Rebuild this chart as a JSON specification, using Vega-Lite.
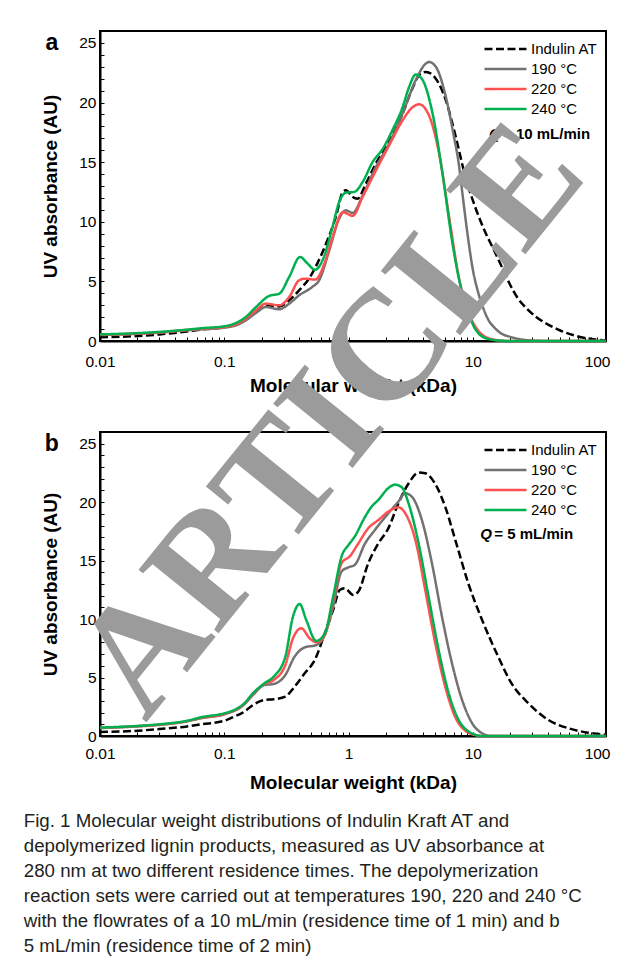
{
  "$schema": "https://vega.github.io/schema/vega-lite/v6.json",
  "background": "white",
  "padding": {"left": 23, "top": 30, "right": 5, "bottom": 5},
  "autosize": {"type": "pad"},
  "bounds": "flush",
  "spacing": 91,
  "config": {
    "font": "Liberation Sans",
    "view": {"stroke": "black", "strokeWidth": 2},
    "axis": {
      "domainColor": "black", "domainWidth": 2, "tickColor": "black", "tickWidth": 1,
      "labelColor": "black", "labelFont": "Liberation Sans", "labelFontSize": 15.5,
      "titleColor": "black", "titleFont": "Liberation Sans", "titleFontSize": 19, "titleFontWeight": "bold",
      "grid": false, "labelFlush": false, "labelOverlap": false, "tickSize": -4
    },
    "legend": {
      "title": null, "orient": "top-right", "offset": 8, "padding": 0,
      "symbolType": "stroke", "symbolSize": 1764, "symbolStrokeWidth": 2.5,
      "clipHeight": 20, "rowPadding": 0, "labelFontSize": 15, "labelFont": "Liberation Sans",
      "labelColor": "black", "labelOffset": 3
    }
  },
  "title": {
    "text": [
      "Fig. 1  Molecular weight distributions of Indulin Kraft AT and",
      "depolymerized lignin products, measured as UV absorbance at",
      "280 nm at two different residence times. The depolymerization",
      "reaction sets were carried out at temperatures 190, 220 and 240 °C",
      "with the flowrates of a 10 mL/min (residence time of 1 min) and b",
      "5 mL/min (residence time of 2 min)"
    ],
    "orient": "bottom", "anchor": "start", "frame": "bounds",
    "font": "Liberation Sans", "fontSize": 18.7, "fontWeight": "normal", "color": "#231f20",
    "lineHeight": 25, "offset": 18, "dx": -17, "baseline": "top"
  },
  "resolve": {
    "scale": {"color": "independent", "strokeDash": "independent"},
    "legend": {"color": "independent", "strokeDash": "independent"}
  },
  "datasets": {
    "a": [
      {"series": "Indulin AT", "mw": 0.01, "uv": 0.32},
      {"series": "Indulin AT", "mw": 0.02, "uv": 0.42},
      {"series": "Indulin AT", "mw": 0.03, "uv": 0.55},
      {"series": "Indulin AT", "mw": 0.05, "uv": 0.8},
      {"series": "Indulin AT", "mw": 0.067, "uv": 0.98},
      {"series": "Indulin AT", "mw": 0.1, "uv": 1.15},
      {"series": "Indulin AT", "mw": 0.124, "uv": 1.4},
      {"series": "Indulin AT", "mw": 0.149, "uv": 1.85},
      {"series": "Indulin AT", "mw": 0.18, "uv": 2.5},
      {"series": "Indulin AT", "mw": 0.216, "uv": 2.99},
      {"series": "Indulin AT", "mw": 0.277, "uv": 2.9},
      {"series": "Indulin AT", "mw": 0.333, "uv": 3.41},
      {"series": "Indulin AT", "mw": 0.4, "uv": 4.25},
      {"series": "Indulin AT", "mw": 0.48, "uv": 5.23},
      {"series": "Indulin AT", "mw": 0.56, "uv": 6.49},
      {"series": "Indulin AT", "mw": 0.66, "uv": 8.17},
      {"series": "Indulin AT", "mw": 0.79, "uv": 10.4},
      {"series": "Indulin AT", "mw": 0.9, "uv": 12.5},
      {"series": "Indulin AT", "mw": 0.953, "uv": 12.64},
      {"series": "Indulin AT", "mw": 1.08, "uv": 12.08},
      {"series": "Indulin AT", "mw": 1.18, "uv": 11.94},
      {"series": "Indulin AT", "mw": 1.38, "uv": 13.2},
      {"series": "Indulin AT", "mw": 1.66, "uv": 14.9},
      {"series": "Indulin AT", "mw": 2.12, "uv": 16.7},
      {"series": "Indulin AT", "mw": 2.72, "uv": 19.07},
      {"series": "Indulin AT", "mw": 3.27, "uv": 21.2},
      {"series": "Indulin AT", "mw": 3.7, "uv": 22.3},
      {"series": "Indulin AT", "mw": 4.19, "uv": 22.57},
      {"series": "Indulin AT", "mw": 5.04, "uv": 22.0},
      {"series": "Indulin AT", "mw": 6.06, "uv": 20.2},
      {"series": "Indulin AT", "mw": 7.3, "uv": 17.1},
      {"series": "Indulin AT", "mw": 8.8, "uv": 13.6},
      {"series": "Indulin AT", "mw": 10.4, "uv": 11.3},
      {"series": "Indulin AT", "mw": 12.5, "uv": 9.2},
      {"series": "Indulin AT", "mw": 15, "uv": 7.5},
      {"series": "Indulin AT", "mw": 17.5, "uv": 6.0},
      {"series": "Indulin AT", "mw": 20, "uv": 4.7},
      {"series": "Indulin AT", "mw": 23, "uv": 3.6},
      {"series": "Indulin AT", "mw": 27, "uv": 2.75},
      {"series": "Indulin AT", "mw": 32, "uv": 2.05},
      {"series": "Indulin AT", "mw": 40, "uv": 1.4},
      {"series": "Indulin AT", "mw": 50, "uv": 0.9},
      {"series": "Indulin AT", "mw": 66.7, "uv": 0.45},
      {"series": "Indulin AT", "mw": 96.6, "uv": 0.12},
      {"series": "Indulin AT", "mw": 118, "uv": 0.05},

      {"series": "190 °C", "mw": 0.01, "uv": 0.5},
      {"series": "190 °C", "mw": 0.02, "uv": 0.6},
      {"series": "190 °C", "mw": 0.03, "uv": 0.7},
      {"series": "190 °C", "mw": 0.05, "uv": 0.9},
      {"series": "190 °C", "mw": 0.067, "uv": 0.98},
      {"series": "190 °C", "mw": 0.1, "uv": 1.12},
      {"series": "190 °C", "mw": 0.124, "uv": 1.31},
      {"series": "190 °C", "mw": 0.149, "uv": 1.73},
      {"series": "190 °C", "mw": 0.18, "uv": 2.35},
      {"series": "190 °C", "mw": 0.216, "uv": 2.85},
      {"series": "190 °C", "mw": 0.277, "uv": 2.66},
      {"series": "190 °C", "mw": 0.333, "uv": 3.13},
      {"series": "190 °C", "mw": 0.4, "uv": 3.83},
      {"series": "190 °C", "mw": 0.51, "uv": 4.53},
      {"series": "190 °C", "mw": 0.58, "uv": 5.09},
      {"series": "190 °C", "mw": 0.7, "uv": 7.6},
      {"series": "190 °C", "mw": 0.84, "uv": 10.26},
      {"series": "190 °C", "mw": 0.953, "uv": 10.96},
      {"series": "190 °C", "mw": 1.08, "uv": 10.74},
      {"series": "190 °C", "mw": 1.3, "uv": 12.2},
      {"series": "190 °C", "mw": 1.66, "uv": 14.6},
      {"series": "190 °C", "mw": 2.12, "uv": 16.55},
      {"series": "190 °C", "mw": 2.72, "uv": 19.07},
      {"series": "190 °C", "mw": 3.48, "uv": 21.9},
      {"series": "190 °C", "mw": 4.19, "uv": 23.27},
      {"series": "190 °C", "mw": 4.45, "uv": 23.4},
      {"series": "190 °C", "mw": 5.04, "uv": 23.0},
      {"series": "190 °C", "mw": 6.06, "uv": 20.5},
      {"series": "190 °C", "mw": 7.0, "uv": 17.3},
      {"series": "190 °C", "mw": 7.7, "uv": 14.9},
      {"series": "190 °C", "mw": 8.2, "uv": 12.6},
      {"series": "190 °C", "mw": 9.25, "uv": 8.3},
      {"series": "190 °C", "mw": 10, "uv": 6.0},
      {"series": "190 °C", "mw": 11.1, "uv": 4.0},
      {"series": "190 °C", "mw": 12.2, "uv": 2.7},
      {"series": "190 °C", "mw": 13.4, "uv": 1.74},
      {"series": "190 °C", "mw": 15, "uv": 1.1},
      {"series": "190 °C", "mw": 17, "uv": 0.62},
      {"series": "190 °C", "mw": 20, "uv": 0.35},
      {"series": "190 °C", "mw": 25, "uv": 0.12},
      {"series": "190 °C", "mw": 32, "uv": 0.03},
      {"series": "190 °C", "mw": 40, "uv": 0},
      {"series": "190 °C", "mw": 118, "uv": 0},

      {"series": "220 °C", "mw": 0.01, "uv": 0.52},
      {"series": "220 °C", "mw": 0.02, "uv": 0.62},
      {"series": "220 °C", "mw": 0.03, "uv": 0.72},
      {"series": "220 °C", "mw": 0.05, "uv": 0.92},
      {"series": "220 °C", "mw": 0.067, "uv": 1.03},
      {"series": "220 °C", "mw": 0.1, "uv": 1.17},
      {"series": "220 °C", "mw": 0.124, "uv": 1.4},
      {"series": "220 °C", "mw": 0.149, "uv": 1.87},
      {"series": "220 °C", "mw": 0.18, "uv": 2.57},
      {"series": "220 °C", "mw": 0.216, "uv": 3.13},
      {"series": "220 °C", "mw": 0.277, "uv": 2.99},
      {"series": "220 °C", "mw": 0.333, "uv": 3.69},
      {"series": "220 °C", "mw": 0.4, "uv": 5.09},
      {"series": "220 °C", "mw": 0.45, "uv": 5.23},
      {"series": "220 °C", "mw": 0.54, "uv": 5.15},
      {"series": "220 °C", "mw": 0.64, "uv": 6.5},
      {"series": "220 °C", "mw": 0.743, "uv": 8.7},
      {"series": "220 °C", "mw": 0.9, "uv": 10.8},
      {"series": "220 °C", "mw": 1.08, "uv": 10.5},
      {"series": "220 °C", "mw": 1.3, "uv": 12.1},
      {"series": "220 °C", "mw": 1.66, "uv": 14.3},
      {"series": "220 °C", "mw": 2.12, "uv": 16.4},
      {"series": "220 °C", "mw": 2.72, "uv": 18.5},
      {"series": "220 °C", "mw": 3.27, "uv": 19.6},
      {"series": "220 °C", "mw": 3.7, "uv": 19.85},
      {"series": "220 °C", "mw": 4.45, "uv": 18.9},
      {"series": "220 °C", "mw": 5.36, "uv": 15.7},
      {"series": "220 °C", "mw": 6.45, "uv": 10.4},
      {"series": "220 °C", "mw": 7.7, "uv": 5.4},
      {"series": "220 °C", "mw": 9.33, "uv": 2.3},
      {"series": "220 °C", "mw": 11.2, "uv": 0.8},
      {"series": "220 °C", "mw": 12.6, "uv": 0.35},
      {"series": "220 °C", "mw": 15.8, "uv": 0.07},
      {"series": "220 °C", "mw": 20, "uv": 0},
      {"series": "220 °C", "mw": 118, "uv": 0},

      {"series": "240 °C", "mw": 0.01, "uv": 0.55},
      {"series": "240 °C", "mw": 0.02, "uv": 0.66},
      {"series": "240 °C", "mw": 0.03, "uv": 0.76},
      {"series": "240 °C", "mw": 0.05, "uv": 0.95},
      {"series": "240 °C", "mw": 0.067, "uv": 1.08},
      {"series": "240 °C", "mw": 0.1, "uv": 1.23},
      {"series": "240 °C", "mw": 0.124, "uv": 1.51},
      {"series": "240 °C", "mw": 0.149, "uv": 2.01},
      {"series": "240 °C", "mw": 0.18, "uv": 2.85},
      {"series": "240 °C", "mw": 0.23, "uv": 3.78},
      {"series": "240 °C", "mw": 0.277, "uv": 3.97},
      {"series": "240 °C", "mw": 0.333, "uv": 5.37},
      {"series": "240 °C", "mw": 0.408, "uv": 7.05},
      {"series": "240 °C", "mw": 0.468, "uv": 6.49},
      {"series": "240 °C", "mw": 0.539, "uv": 5.98},
      {"series": "240 °C", "mw": 0.618, "uv": 6.77},
      {"series": "240 °C", "mw": 0.743, "uv": 9.56},
      {"series": "240 °C", "mw": 0.841, "uv": 11.66},
      {"series": "240 °C", "mw": 0.953, "uv": 12.44},
      {"series": "240 °C", "mw": 1.11, "uv": 12.5},
      {"series": "240 °C", "mw": 1.3, "uv": 13.34},
      {"series": "240 °C", "mw": 1.56, "uv": 15.0},
      {"series": "240 °C", "mw": 1.88, "uv": 16.1},
      {"series": "240 °C", "mw": 2.26, "uv": 17.7},
      {"series": "240 °C", "mw": 2.72, "uv": 19.6},
      {"series": "240 °C", "mw": 3.07, "uv": 21.3},
      {"series": "240 °C", "mw": 3.48, "uv": 22.35},
      {"series": "240 °C", "mw": 3.94, "uv": 21.9},
      {"series": "240 °C", "mw": 4.74, "uv": 19.1},
      {"series": "240 °C", "mw": 5.71, "uv": 14.0},
      {"series": "240 °C", "mw": 6.86, "uv": 8.2},
      {"series": "240 °C", "mw": 7.9, "uv": 4.8},
      {"series": "240 °C", "mw": 8.9, "uv": 3.0},
      {"series": "240 °C", "mw": 10, "uv": 1.4},
      {"series": "240 °C", "mw": 11.2, "uv": 0.6},
      {"series": "240 °C", "mw": 12.6, "uv": 0.25},
      {"series": "240 °C", "mw": 15.8, "uv": 0.05},
      {"series": "240 °C", "mw": 20, "uv": 0},
      {"series": "240 °C", "mw": 118, "uv": 0}
    ],
    "b": [
      {"series": "Indulin AT", "mw": 0.01, "uv": 0.35},
      {"series": "Indulin AT", "mw": 0.02, "uv": 0.45},
      {"series": "Indulin AT", "mw": 0.03, "uv": 0.6},
      {"series": "Indulin AT", "mw": 0.05, "uv": 0.82},
      {"series": "Indulin AT", "mw": 0.065, "uv": 1.0},
      {"series": "Indulin AT", "mw": 0.1, "uv": 1.3},
      {"series": "Indulin AT", "mw": 0.12, "uv": 1.65},
      {"series": "Indulin AT", "mw": 0.145, "uv": 2.08},
      {"series": "Indulin AT", "mw": 0.17, "uv": 2.65},
      {"series": "Indulin AT", "mw": 0.21, "uv": 3.08},
      {"series": "Indulin AT", "mw": 0.25, "uv": 3.14},
      {"series": "Indulin AT", "mw": 0.31, "uv": 3.36},
      {"series": "Indulin AT", "mw": 0.368, "uv": 4.22},
      {"series": "Indulin AT", "mw": 0.444, "uv": 5.36},
      {"series": "Indulin AT", "mw": 0.535, "uv": 6.5},
      {"series": "Indulin AT", "mw": 0.644, "uv": 8.78},
      {"series": "Indulin AT", "mw": 0.752, "uv": 10.78},
      {"series": "Indulin AT", "mw": 0.85, "uv": 12.49},
      {"series": "Indulin AT", "mw": 0.934, "uv": 12.63},
      {"series": "Indulin AT", "mw": 1.09, "uv": 12.06},
      {"series": "Indulin AT", "mw": 1.2, "uv": 12.35},
      {"series": "Indulin AT", "mw": 1.44, "uv": 14.77},
      {"series": "Indulin AT", "mw": 1.74, "uv": 16.48},
      {"series": "Indulin AT", "mw": 2.09, "uv": 17.76},
      {"series": "Indulin AT", "mw": 2.52, "uv": 19.9},
      {"series": "Indulin AT", "mw": 3.04, "uv": 21.6},
      {"series": "Indulin AT", "mw": 3.66, "uv": 22.53},
      {"series": "Indulin AT", "mw": 4.14, "uv": 22.47},
      {"series": "Indulin AT", "mw": 5.2, "uv": 21.2},
      {"series": "Indulin AT", "mw": 6.0, "uv": 19.6},
      {"series": "Indulin AT", "mw": 7.4, "uv": 16.4},
      {"series": "Indulin AT", "mw": 9.2, "uv": 13.06},
      {"series": "Indulin AT", "mw": 11.8, "uv": 10.0},
      {"series": "Indulin AT", "mw": 16, "uv": 6.79},
      {"series": "Indulin AT", "mw": 20.5, "uv": 4.5},
      {"series": "Indulin AT", "mw": 28, "uv": 2.8},
      {"series": "Indulin AT", "mw": 40.6, "uv": 1.37},
      {"series": "Indulin AT", "mw": 58.9, "uv": 0.66},
      {"series": "Indulin AT", "mw": 85, "uv": 0.28},
      {"series": "Indulin AT", "mw": 118, "uv": 0.1},

      {"series": "190 °C", "mw": 0.01, "uv": 0.68},
      {"series": "190 °C", "mw": 0.02, "uv": 0.82},
      {"series": "190 °C", "mw": 0.03, "uv": 0.95},
      {"series": "190 °C", "mw": 0.05, "uv": 1.25},
      {"series": "190 °C", "mw": 0.065, "uv": 1.52},
      {"series": "190 °C", "mw": 0.1, "uv": 1.85},
      {"series": "190 °C", "mw": 0.145, "uv": 2.71},
      {"series": "190 °C", "mw": 0.17, "uv": 3.5},
      {"series": "190 °C", "mw": 0.21, "uv": 4.36},
      {"series": "190 °C", "mw": 0.25, "uv": 4.45},
      {"series": "190 °C", "mw": 0.31, "uv": 5.22},
      {"series": "190 °C", "mw": 0.368, "uv": 6.79},
      {"series": "190 °C", "mw": 0.444, "uv": 7.58},
      {"series": "190 °C", "mw": 0.55, "uv": 7.78},
      {"series": "190 °C", "mw": 0.644, "uv": 8.64},
      {"series": "190 °C", "mw": 0.752, "uv": 11.06},
      {"series": "190 °C", "mw": 0.878, "uv": 14.06},
      {"series": "190 °C", "mw": 1.0, "uv": 14.43},
      {"series": "190 °C", "mw": 1.12, "uv": 14.63},
      {"series": "190 °C", "mw": 1.36, "uv": 16.48},
      {"series": "190 °C", "mw": 1.63, "uv": 17.62},
      {"series": "190 °C", "mw": 2.09, "uv": 19.05},
      {"series": "190 °C", "mw": 2.52, "uv": 20.05},
      {"series": "190 °C", "mw": 2.86, "uv": 20.76},
      {"series": "190 °C", "mw": 3.23, "uv": 20.47},
      {"series": "190 °C", "mw": 3.89, "uv": 18.48},
      {"series": "190 °C", "mw": 4.69, "uv": 14.77},
      {"series": "190 °C", "mw": 5.65, "uv": 10.2},
      {"series": "190 °C", "mw": 6.8, "uv": 6.22},
      {"series": "190 °C", "mw": 8.2, "uv": 3.08},
      {"series": "190 °C", "mw": 9.9, "uv": 1.08},
      {"series": "190 °C", "mw": 11.9, "uv": 0.23},
      {"series": "190 °C", "mw": 14, "uv": 0},
      {"series": "190 °C", "mw": 118, "uv": 0},

      {"series": "220 °C", "mw": 0.01, "uv": 0.7},
      {"series": "220 °C", "mw": 0.02, "uv": 0.84},
      {"series": "220 °C", "mw": 0.03, "uv": 0.97},
      {"series": "220 °C", "mw": 0.05, "uv": 1.27},
      {"series": "220 °C", "mw": 0.065, "uv": 1.55},
      {"series": "220 °C", "mw": 0.1, "uv": 1.88},
      {"series": "220 °C", "mw": 0.145, "uv": 2.74},
      {"series": "220 °C", "mw": 0.17, "uv": 3.6},
      {"series": "220 °C", "mw": 0.21, "uv": 4.45},
      {"series": "220 °C", "mw": 0.25, "uv": 4.79},
      {"series": "220 °C", "mw": 0.31, "uv": 6.07},
      {"series": "220 °C", "mw": 0.357, "uv": 8.35},
      {"series": "220 °C", "mw": 0.417, "uv": 9.21},
      {"series": "220 °C", "mw": 0.487, "uv": 8.35},
      {"series": "220 °C", "mw": 0.55, "uv": 8.01},
      {"series": "220 °C", "mw": 0.644, "uv": 8.64},
      {"series": "220 °C", "mw": 0.752, "uv": 11.63},
      {"series": "220 °C", "mw": 0.878, "uv": 14.77},
      {"series": "220 °C", "mw": 1.03, "uv": 15.4},
      {"series": "220 °C", "mw": 1.2, "uv": 16.48},
      {"series": "220 °C", "mw": 1.44, "uv": 17.76},
      {"series": "220 °C", "mw": 1.74, "uv": 18.48},
      {"series": "220 °C", "mw": 2.09, "uv": 19.19},
      {"series": "220 °C", "mw": 2.52, "uv": 19.56},
      {"series": "220 °C", "mw": 2.86, "uv": 19.05},
      {"series": "220 °C", "mw": 3.5, "uv": 16.5},
      {"series": "220 °C", "mw": 4.14, "uv": 12.5},
      {"series": "220 °C", "mw": 4.99, "uv": 7.93},
      {"series": "220 °C", "mw": 6.0, "uv": 4.22},
      {"series": "220 °C", "mw": 7.2, "uv": 1.65},
      {"series": "220 °C", "mw": 8.6, "uv": 0.5},
      {"series": "220 °C", "mw": 10.5, "uv": 0.08},
      {"series": "220 °C", "mw": 12, "uv": 0},
      {"series": "220 °C", "mw": 118, "uv": 0},

      {"series": "240 °C", "mw": 0.01, "uv": 0.72},
      {"series": "240 °C", "mw": 0.02, "uv": 0.86},
      {"series": "240 °C", "mw": 0.03, "uv": 1.0},
      {"series": "240 °C", "mw": 0.05, "uv": 1.3},
      {"series": "240 °C", "mw": 0.065, "uv": 1.6},
      {"series": "240 °C", "mw": 0.1, "uv": 1.94},
      {"series": "240 °C", "mw": 0.12, "uv": 2.22},
      {"series": "240 °C", "mw": 0.145, "uv": 2.79},
      {"series": "240 °C", "mw": 0.17, "uv": 3.65},
      {"series": "240 °C", "mw": 0.21, "uv": 4.5},
      {"series": "240 °C", "mw": 0.25, "uv": 5.08},
      {"series": "240 °C", "mw": 0.31, "uv": 6.79},
      {"series": "240 °C", "mw": 0.357, "uv": 10.2},
      {"series": "240 °C", "mw": 0.404, "uv": 11.29},
      {"series": "240 °C", "mw": 0.457, "uv": 9.92},
      {"series": "240 °C", "mw": 0.55, "uv": 8.13},
      {"series": "240 °C", "mw": 0.644, "uv": 8.78},
      {"series": "240 °C", "mw": 0.752, "uv": 11.9},
      {"series": "240 °C", "mw": 0.878, "uv": 15.34},
      {"series": "240 °C", "mw": 1.0, "uv": 16.34},
      {"series": "240 °C", "mw": 1.12, "uv": 17.05},
      {"series": "240 °C", "mw": 1.36, "uv": 18.76},
      {"series": "240 °C", "mw": 1.53, "uv": 19.6},
      {"series": "240 °C", "mw": 1.74, "uv": 20.2},
      {"series": "240 °C", "mw": 2.09, "uv": 21.2},
      {"series": "240 °C", "mw": 2.37, "uv": 21.5},
      {"series": "240 °C", "mw": 2.68, "uv": 21.27},
      {"series": "240 °C", "mw": 3.04, "uv": 19.9},
      {"series": "240 °C", "mw": 3.66, "uv": 16.5},
      {"series": "240 °C", "mw": 4.41, "uv": 11.9},
      {"series": "240 °C", "mw": 5.31, "uv": 7.36},
      {"series": "240 °C", "mw": 6.4, "uv": 3.65},
      {"series": "240 °C", "mw": 7.7, "uv": 1.37},
      {"series": "240 °C", "mw": 9.3, "uv": 0.37},
      {"series": "240 °C", "mw": 11.9, "uv": 0},
      {"series": "240 °C", "mw": 118, "uv": 0}
    ]
  },
  "vconcat": [
    {
      "width": 506, "height": 310,
      "view": {"stroke": "black", "strokeWidth": 2},
      "layer": [
        {
          "data": {"name": "a"},
          "mark": {"type": "line", "interpolate": "monotone", "strokeWidth": 2.5},
          "encoding": {
            "x": {"field": "mw", "type": "quantitative", "title": "Molecular weight (kDa)",
              "scale": {"type": "log", "domain": [0.01, 118], "nice": false},
              "axis": {"values": [0.01,0.02,0.03,0.04,0.05,0.06,0.07,0.08,0.09,0.1,0.2,0.3,0.4,0.5,0.6,0.7,0.8,0.9,1,2,3,4,5,6,7,8,9,10,20,30,40,50,60,70,80,90,100],
                "tickCount": 100,
                "labelExpr": "datum.value == 0.01 ? '0.01' : datum.value == 0.1 ? '0.1' : datum.value == 1 ? '1' : datum.value == 10 ? '10' : datum.value == 100 ? '100' : ''",
                "labelPadding": 17, "titlePadding": 7, "labelOverlap": false, "tickSize": -4, "tickColor": "black", "domainColor": "black", "domainWidth": 2}},
            "y": {"field": "uv", "type": "quantitative", "title": "UV absorbance (AU)",
              "scale": {"domain": [0, 26], "nice": false},
              "axis": {"values": [0,1,2,3,4,5,6,7,8,9,10,11,12,13,14,15,16,17,18,19,20,21,22,23,24,25],
                "tickCount": 100, "format": "d",
                "labelExpr": "datum.value % 5 == 0 ? '' + datum.value : ''", "labelPadding": 8, "titlePadding": 18,
                "labelOverlap": false, "tickSize": -4, "tickColor": "black", "domainColor": "black", "domainWidth": 2}},
            "color": {"field": "series", "type": "nominal", "sort": null,
              "scale": {"domain": ["Indulin AT", "190 °C", "220 °C", "240 °C"], "range": ["#000000", "#767171", "#ff5050", "#00b050"]}},
            "strokeDash": {"field": "series", "type": "nominal", "sort": null,
              "scale": {"domain": ["Indulin AT", "190 °C", "220 °C", "240 °C"], "range": [[8, 3.5], [1, 0], [1, 0], [1, 0]]}}
          }
        },
        {
          "data": {"values": [{}]},
          "mark": {"type": "text", "text": "a", "fontWeight": "bold", "fontSize": 23, "align": "center", "baseline": "middle", "color": "black"},
          "encoding": {"x": {"datum": 0.0041}, "y": {"datum": 25}}
        },
        {
          "data": {"values": [{}]},
          "mark": {"type": "text", "text": "Q", "fontStyle": "italic", "fontWeight": "bold", "fontSize": 15, "align": "left", "baseline": "middle", "color": "black"},
          "encoding": {"x": {"datum": 13.5}, "y": {"datum": 17.34}}
        },
        {
          "data": {"values": [{}]},
          "mark": {"type": "text", "text": "= 10 mL/min", "fontWeight": "bold", "fontSize": 15, "align": "left", "baseline": "middle", "color": "black", "dx": 14},
          "encoding": {"x": {"datum": 13.5}, "y": {"datum": 17.34}}
        }
      ]
    },
    {
      "width": 506, "height": 304,
      "view": {"stroke": "black", "strokeWidth": 2},
      "layer": [
        {
          "data": {"name": "b"},
          "mark": {"type": "line", "interpolate": "monotone", "strokeWidth": 2.5},
          "encoding": {
            "x": {"field": "mw", "type": "quantitative", "title": "Molecular weight (kDa)",
              "scale": {"type": "log", "domain": [0.01, 118], "nice": false},
              "axis": {"values": [0.01,0.02,0.03,0.04,0.05,0.06,0.07,0.08,0.09,0.1,0.2,0.3,0.4,0.5,0.6,0.7,0.8,0.9,1,2,3,4,5,6,7,8,9,10,20,30,40,50,60,70,80,90,100],
                "tickCount": 100,
                "labelExpr": "datum.value == 0.01 ? '0.01' : datum.value == 0.1 ? '0.1' : datum.value == 1 ? '1' : datum.value == 10 ? '10' : datum.value == 100 ? '100' : ''",
                "labelPadding": 14, "titlePadding": 12, "labelOverlap": false, "tickSize": -4, "tickColor": "black", "domainColor": "black", "domainWidth": 2}},
            "y": {"field": "uv", "type": "quantitative", "title": "UV absorbance (AU)",
              "scale": {"domain": [0, 26], "nice": false},
              "axis": {"values": [0,1,2,3,4,5,6,7,8,9,10,11,12,13,14,15,16,17,18,19,20,21,22,23,24,25],
                "tickCount": 100, "format": "d",
                "labelExpr": "datum.value % 5 == 0 ? '' + datum.value : ''", "labelPadding": 8, "titlePadding": 18,
                "labelOverlap": false, "tickSize": -4, "tickColor": "black", "domainColor": "black", "domainWidth": 2}},
            "color": {"field": "series", "type": "nominal", "sort": null,
              "scale": {"domain": ["Indulin AT", "190 °C", "220 °C", "240 °C"], "range": ["#000000", "#767171", "#ff5050", "#00b050"]}},
            "strokeDash": {"field": "series", "type": "nominal", "sort": null,
              "scale": {"domain": ["Indulin AT", "190 °C", "220 °C", "240 °C"], "range": [[8, 3.5], [1, 0], [1, 0], [1, 0]]}}
          }
        },
        {
          "data": {"values": [{}]},
          "mark": {"type": "text", "text": "b", "fontWeight": "bold", "fontSize": 23, "align": "center", "baseline": "middle", "color": "black"},
          "encoding": {"x": {"datum": 0.0041}, "y": {"datum": 25}}
        },
        {
          "data": {"values": [{}]},
          "mark": {"type": "text", "text": "Q", "fontStyle": "italic", "fontWeight": "bold", "fontSize": 15, "align": "left", "baseline": "middle", "color": "black"},
          "encoding": {"x": {"datum": 11.5}, "y": {"datum": 17.28}}
        },
        {
          "data": {"values": [{}]},
          "mark": {"type": "text", "text": "= 5 mL/min", "fontWeight": "bold", "fontSize": 15, "align": "left", "baseline": "middle", "color": "black", "dx": 14},
          "encoding": {"x": {"datum": 11.5}, "y": {"datum": 17.28}}
        },
        {
          "data": {"values": [{}]},
          "mark": {"type": "text", "text": "ARTICLE", "font": "Liberation Serif", "fontWeight": "bold", "fontSize": 156, "angle": 309, "align": "center", "baseline": "middle", "color": "#9b9b9b"},
          "encoding": {"x": {"datum": 0.721}, "y": {"datum": 27.03}}
        }
      ]
    }
  ]
}
